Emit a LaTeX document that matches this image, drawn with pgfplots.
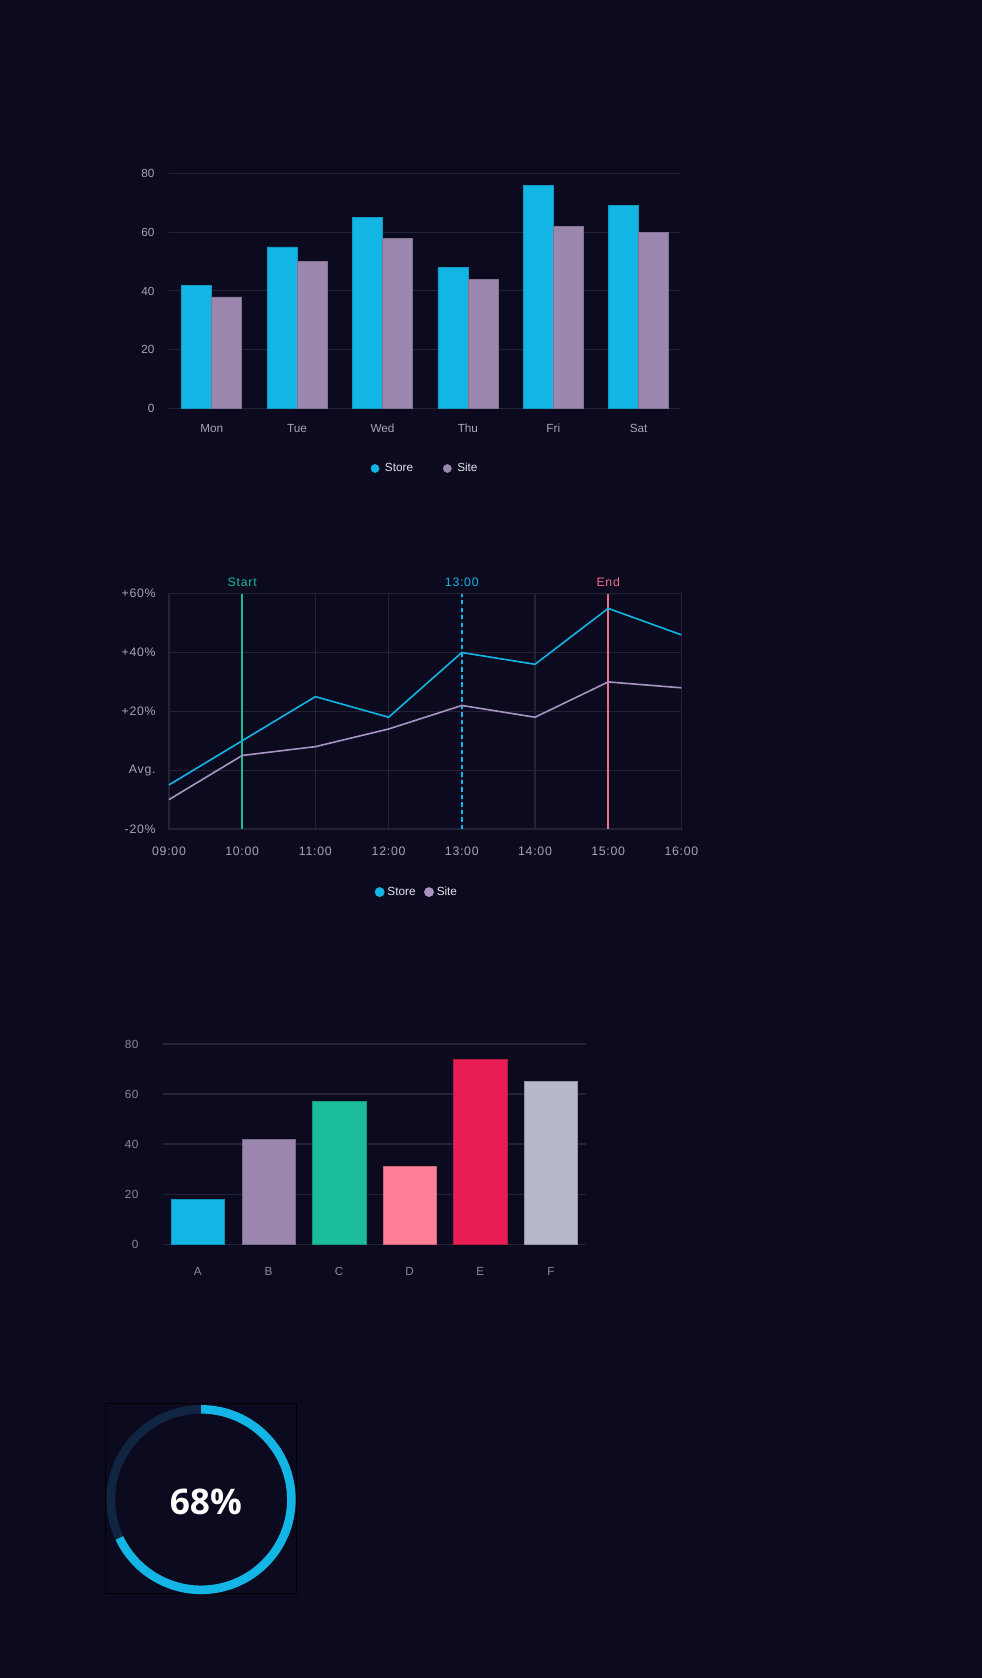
\documentclass[border=0pt]{standalone}
\usepackage{pgfplots}
\pgfplotsset{compat=1.18}
\usepackage{fontspec}
\setmainfont{Liberation Sans}
\newfontfamily\donutfont{Open Sans}
\definecolor{bg}{HTML}{0B0A1F}
\definecolor{gridc}{HTML}{242236}
\definecolor{tickc}{HTML}{A6A4B5}
\definecolor{tickd}{HTML}{8A889D}
\definecolor{cyanc}{HTML}{12B5E3}
\definecolor{lilac}{HTML}{9B87AD}
\definecolor{lilacl}{HTML}{A993C2}
\definecolor{tealc}{HTML}{1ABC9C}
\definecolor{pinkc}{HTML}{FF7F96}
\definecolor{redc}{HTML}{E91E56}
\definecolor{greyc}{HTML}{B8B8CC}
\definecolor{trackc}{HTML}{0F2541}
\definecolor{endc}{HTML}{EE6F88}
\definecolor{legtext}{HTML}{E4E3EE}

\begin{document}
\begin{tikzpicture}[x=1pt,y=1pt]
\fill[bg] (0,0) rectangle (918,-1568.7);
\useasboundingbox (0,0) rectangle (918,-1568.7);

% ---------- Chart 1 ----------
\begin{axis}[
  at={(158pt,-382pt)}, anchor=south west,
  scale only axis, width=479pt, height=220pt,
  xmin=-0.5, xmax=5.5, ymin=0, ymax=80,
  ybar=0pt, bar width=28pt,
  xtick={0,...,5}, xticklabels={Mon,Tue,Wed,Thu,Fri,Sat},
  ytick={0,20,40,60,80},
  axis line style={draw=none}, major tick length=0pt,
  ymajorgrids, grid style={gridc, line width=1pt},
  tick label style={font=\fontsize{11}{13}\selectfont, text=tickc},
  yticklabel style={xshift=-10pt},
  xticklabel style={yshift=-11pt, text height=8pt, text depth=2pt},
  /pgf/number format/assume math mode=true,
  legend style={at={(0.5,-0.2545)}, anchor=center, draw=none, fill=none,
    text=legtext, font=\fontsize{11}{13}\selectfont,
    /tikz/every even column/.append style={column sep=26pt}},
  legend columns=2,
]
\addplot[fill=cyanc, draw=cyanc!85!black, line width=0.5pt,
  legend image code/.code={\fill[cyanc] (0pt,0pt) circle (3.8pt); \path (7pt,0pt);}]
  coordinates {(0,42) (1,55) (2,65) (3,48) (4,76) (5,69)};
\addplot[fill=lilac, draw=lilac!85!black, line width=0.5pt,
  legend image code/.code={\fill[lilac] (0pt,0pt) circle (3.8pt); \path (7pt,0pt);}]
  coordinates {(0,38) (1,50) (2,58) (3,44) (4,62) (5,60)};
\legend{Store,Site}
\end{axis}

% ---------- Chart 2 ----------
\begin{axis}[
  at={(158pt,-775pt)}, anchor=south west,
  scale only axis, width=479pt, height=220pt,
  xmin=9, xmax=16, ymin=-20, ymax=60,
  xtick={9,...,16}, xticklabels={09:00,10:00,11:00,12:00,13:00,14:00,15:00,16:00},
  ytick={-20,0,20,40,60}, yticklabels={-20\%,Avg.,+20\%,+40\%,+60\%},
  axis line style={gridc, line width=1pt}, major tick length=0pt,
  grid=major, grid style={gridc, line width=1pt},
  tick label style={font=\fontsize{11.5}{13}\selectfont\addfontfeature{LetterSpace=6}, text=tickc},
  yticklabel style={xshift=-9pt},
  xticklabel style={yshift=-13pt, text height=8pt, text depth=2pt},
  clip=false,
  legend style={at={(0.484,-0.268)}, anchor=center, draw=none, fill=none,
    text=legtext, font=\fontsize{11}{13}\selectfont,
    /tikz/every even column/.append style={column sep=6pt}},
  legend columns=2,
]
\addplot[tealc, line width=1.5pt, forget plot] coordinates {(10,-20) (10,60)};
\addplot[cyanc, line width=1.5pt, dash pattern=on 4pt off 3pt, forget plot] coordinates {(13,-20) (13,60)};
\addplot[endc, line width=1.5pt, forget plot] coordinates {(15,-20) (15,60)};
\addplot[cyanc, line width=1.5pt,
  legend image code/.code={\fill[cyanc] (0pt,0pt) circle (3.8pt); \path (4.5pt,0pt);}]
  coordinates {(9,-5) (10,10) (11,25) (12,18) (13,40) (14,36) (15,55) (16,46)};
\addplot[lilacl, line width=1.5pt,
  legend image code/.code={\fill[lilacl] (0pt,0pt) circle (3.8pt); \path (4.5pt,0pt);}]
  coordinates {(9,-10) (10,5) (11,8) (12,14) (13,22) (14,18) (15,30) (16,28)};
\legend{Store,Site}
\node[anchor=south, text=tealc, font=\fontsize{11.5}{13}\selectfont\addfontfeature{LetterSpace=6}] at (axis cs:10,60) [yshift=3pt] {Start};
\node[anchor=south, text=cyanc, font=\fontsize{11.5}{13}\selectfont\addfontfeature{LetterSpace=6}] at (axis cs:13,60) [yshift=3pt] {13:00};
\node[anchor=south, text=endc, font=\fontsize{11.5}{13}\selectfont\addfontfeature{LetterSpace=6}] at (axis cs:15,60) [yshift=3pt] {End};
\end{axis}

% ---------- Chart 3 ----------
\begin{axis}[
  at={(152pt,-1163pt)}, anchor=south west,
  scale only axis, width=396pt, height=187pt,
  xmin=-0.5, xmax=5.5, ymin=0, ymax=80,
  ybar=0pt, bar width=50pt,
  xtick={0,...,5}, xticklabels={A,B,C,D,E,F},
  ytick={0,20,40,60,80},
  axis line style={draw=none}, major tick length=0pt,
  ymajorgrids, grid style={gridc, line width=1pt},
  tick label style={font=\fontsize{11}{13}\selectfont\addfontfeature{LetterSpace=4}, text=tickd},
  yticklabel style={xshift=-19pt},
  xticklabel style={yshift=-18pt, text height=8pt, text depth=2pt},
  /pgf/number format/assume math mode=true,
]
\addplot[fill=cyanc, draw=cyanc!80!black, bar shift=0pt] coordinates {(0,18)};
\addplot[fill=lilac, draw=lilac!80!black, bar shift=0pt] coordinates {(1,42)};
\addplot[fill=tealc, draw=tealc!80!black, bar shift=0pt] coordinates {(2,57)};
\addplot[fill=pinkc, draw=pinkc!80!black, bar shift=0pt] coordinates {(3,31)};
\addplot[fill=redc, draw=redc!80!black, bar shift=0pt] coordinates {(4,74)};
\addplot[fill=greyc, draw=greyc!80!black, bar shift=0pt] coordinates {(5,65)};
\end{axis}

% ---------- Donut ----------
\begin{axis}[
  at={(99pt,-1490pt)}, anchor=south west,
  scale only axis, width=178pt, height=178pt,
  xmin=-1, xmax=1, ymin=-1, ymax=1,
  hide axis, clip=false,
]
\pgfmathsetmacro{\pct}{68}
\draw[black, line width=0.8pt] (rel axis cs:0,0) rectangle (rel axis cs:1,1);
\draw[trackc, line width=8pt] (axis cs:0,-0.01) circle[radius=0.948];
\draw[cyanc, line width=8pt] (axis cs:0,0.938) arc[start angle=90, delta angle={-3.6*\pct}, radius=0.948];
\node[text=white, font=\donutfont\bfseries\fontsize{33}{38}\selectfont] at (axis cs:0.05,-0.03) {68\%};
\end{axis}
\end{tikzpicture}
\end{document}
